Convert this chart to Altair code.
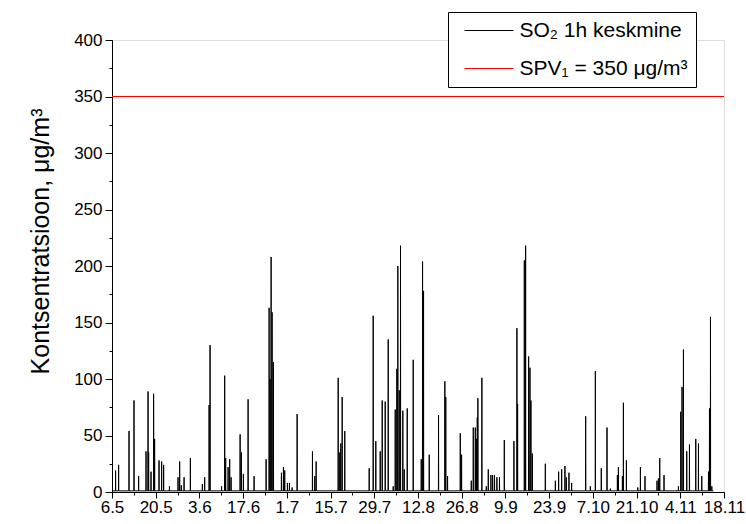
import json
import altair as alt
import pandas as pd

# ---- data (day offset from 6.5, hourly peak value µg/m³)
spike_day = [
    1.15, 2.12, 5.45, 7.05, 8.53, 10.9, 11.54, 11.73, 12.5, 13.33, 13.65, 15.06, 15.9, 16.54,
    18.4, 21.15, 21.67, 22.2, 23.08, 25.1, 28.94, 29.68, 31.1, 31.41, 35.1, 36.09, 36.4,
    37.18, 37.69, 38.14, 41.03, 41.44, 42.08, 43.59, 45.51,
    49.36, 50.32, 50.64, 50.96, 51.28, 51.7, 54.26, 54.9, 55.32, 56.19, 56.83, 57.69, 59.29,
    64.2, 64.94, 65.38, 72.44, 72.95, 73.27, 73.72, 74.55, 82.37, 83.65, 84.49, 85.9, 86.54,
    87.5, 88.46, 90.06, 90.71, 91.22, 91.54, 91.99, 92.4, 93.14, 93.59, 94.55,
    96.47, 99.04, 99.46, 99.78, 101.6, 104.58, 106.6, 106.9, 107.47, 111.54, 111.96,
    115.06, 115.7, 116.35, 116.76, 116.99, 117.18, 118.46, 119.87, 120.51, 121.35, 121.9,
    122.5, 123.27, 124.1, 125.64, 128.72, 129.68, 129.9, 132.05, 132.47, 133.43, 133.85,
    134.17, 134.62, 138.78, 141.99, 143.04, 144.01,
    145.06, 145.51, 146.35, 147.21, 151.7, 153.2, 154.8, 156.7, 158.53, 159.6, 161.86,
    162.18, 163.46, 163.78, 164.74, 168.4, 169.23, 170.7, 174.55, 175.0, 175.42, 176.79,
    181.4, 182.15, 182.56, 183.01, 184.07, 184.94, 186.96, 187.82, 188.88, 191.03, 191.35,
    191.67, 192.1,
]
spike_value = [
    19, 24, 54, 81, 14, 36, 89, 35, 18, 87, 47, 28, 27, 24,
    5, 13, 27, 6, 13, 30, 7, 13, 77, 130, 5, 103, 30,
    22, 29, 13, 51, 35, 16, 82, 14,
    29, 163, 100, 208, 159, 115, 17, 22, 19, 8, 8, 4, 69,
    36, 14, 27, 101, 35, 43, 84, 54, 21, 156, 45, 36, 81,
    80, 135, 5, 73, 109, 200, 90, 218, 72, 20, 74,
    117, 29, 204, 178, 33, 68, 98, 84, 14, 52, 33,
    10, 57, 57, 47, 66, 83, 101, 5, 20, 15, 15,
    15, 13, 13, 46, 45, 145, 78, 205, 218, 120, 110,
    81, 34, 25, 10, 18, 20,
    23, 13, 17, 8, 67, 5, 107, 21, 57, 3, 15,
    22, 14, 79, 28, 4, 22, 14, 10, 12, 30, 15,
    5, 71, 93, 126, 36, 42, 47, 43, 14, 18, 74,
    155, 5,
]
baseline_value = 1

tick_labels = ["6.5", "20.5", "3.6", "17.6", "1.7", "15.7", "29.7", "12.8",
               "26.8", "9.9", "23.9", "7.10", "21.10", "4.11", "18.11"]
limit_value = 350
series_names = ["SO\u2082 1h keskmine", "SPV\u2081 = 350 \u03bcg/m\u00b3"]
series_colors = ["black", "red"]

# ---- build spike series
rows = [(0.0, baseline_value)]
half = 1.0 / 24.0
for d, v in zip(spike_day, spike_value):
    rows.append((d - half, baseline_value))
    rows.append((d, v))
    rows.append((d + half, baseline_value))
rows.append((192.6, baseline_value))
rows.sort(key=lambda r: r[0])
df = pd.DataFrame(rows, columns=["day", "value"])
df["series"] = series_names[0]
df["order"] = range(len(df))

limit_df = pd.DataFrame({"value": [limit_value], "series": [series_names[1]]})

FONT = "Liberation Sans"
major_x = [i * 14 for i in range(len(tick_labels))]
minor_x = [i * 7 for i in range(2 * len(tick_labels) - 1)]
label_expr = json.dumps(tick_labels) + "[round(datum.value/14)]"

x_scale = alt.Scale(domain=[0, 196], nice=False, zero=False)
y_scale = alt.Scale(domain=[0, 400], nice=False)

color = alt.Color(
    "series:N",
    scale=alt.Scale(domain=series_names, range=series_colors),
    legend=alt.Legend(
        title=None, orient="none", legendX=336, legendY=-28,
        strokeColor="black", fillColor="white", padding=8,
        symbolType="M-3.0625,0L3.0625,0", symbolSize=256, symbolStrokeWidth=1,
        symbolOffset=22.5, symbolFillColor="transparent", symbolOpacity=1,
        labelFont=FONT, labelFontSize=21, labelColor="black", labelLimit=400,
        labelOffset=20, rowPadding=16,
    ),
)

line = alt.Chart(df).mark_line(strokeWidth=1, interpolate="linear").encode(
    x=alt.X("day:Q", scale=x_scale, axis=alt.Axis(
        values=major_x, labelExpr=label_expr, title=None, grid=False,
        tickSize=6, tickColor="black", domainColor="black", labelColor="black",
        labelFont=FONT, labelFontSize=17, labelPadding=1, labelFlush=False,
        labelOverlap=False, orient="bottom")),
    y=alt.Y("value:Q", scale=y_scale, axis=alt.Axis(
        values=list(range(0, 401, 50)), title="Kontsentratsioon, \u03bcg/m\u00b3",
        grid=False, tickSize=7, tickColor="black", domainColor="black",
        labelColor="black", labelFont=FONT, labelFontSize=17, labelPadding=3,
        titleFont=FONT, titleFontSize=25, titleFontWeight="normal", titleColor="black",
        titleAngle=270, titleBaseline="middle", titleX=-72, titleY=201,
        orient="left")),
    color=color,
    order="order:Q",
)

minor = alt.Chart(df).mark_line(opacity=0).encode(
    x=alt.X("day:Q", scale=x_scale, axis=alt.Axis(
        values=minor_x, labels=False, title=None, grid=False, domain=False,
        tickSize=3, tickColor="black", orient="bottom")),
    y=alt.Y("value:Q", scale=y_scale, axis=alt.Axis(
        values=list(range(0, 401, 25)), labels=False, title=None, grid=False,
        domain=False, tickSize=3, tickColor="black", orient="left")),
)

rule = alt.Chart(limit_df).mark_rule(strokeWidth=1).encode(
    y=alt.Y("value:Q", scale=y_scale, axis=None),
    color=color,
)

chart = alt.layer(minor, line, rule).resolve_axis(x="independent", y="independent").properties(
    width=612, height=452,
    autosize=alt.AutoSizeParams(type="none"),
    padding={"left": 112, "top": 40, "right": 22, "bottom": 32},
).configure_view(stroke=None).configure(background="white")

chart.save("out.html", embed_options={"renderer": "svg", "actions": False})
